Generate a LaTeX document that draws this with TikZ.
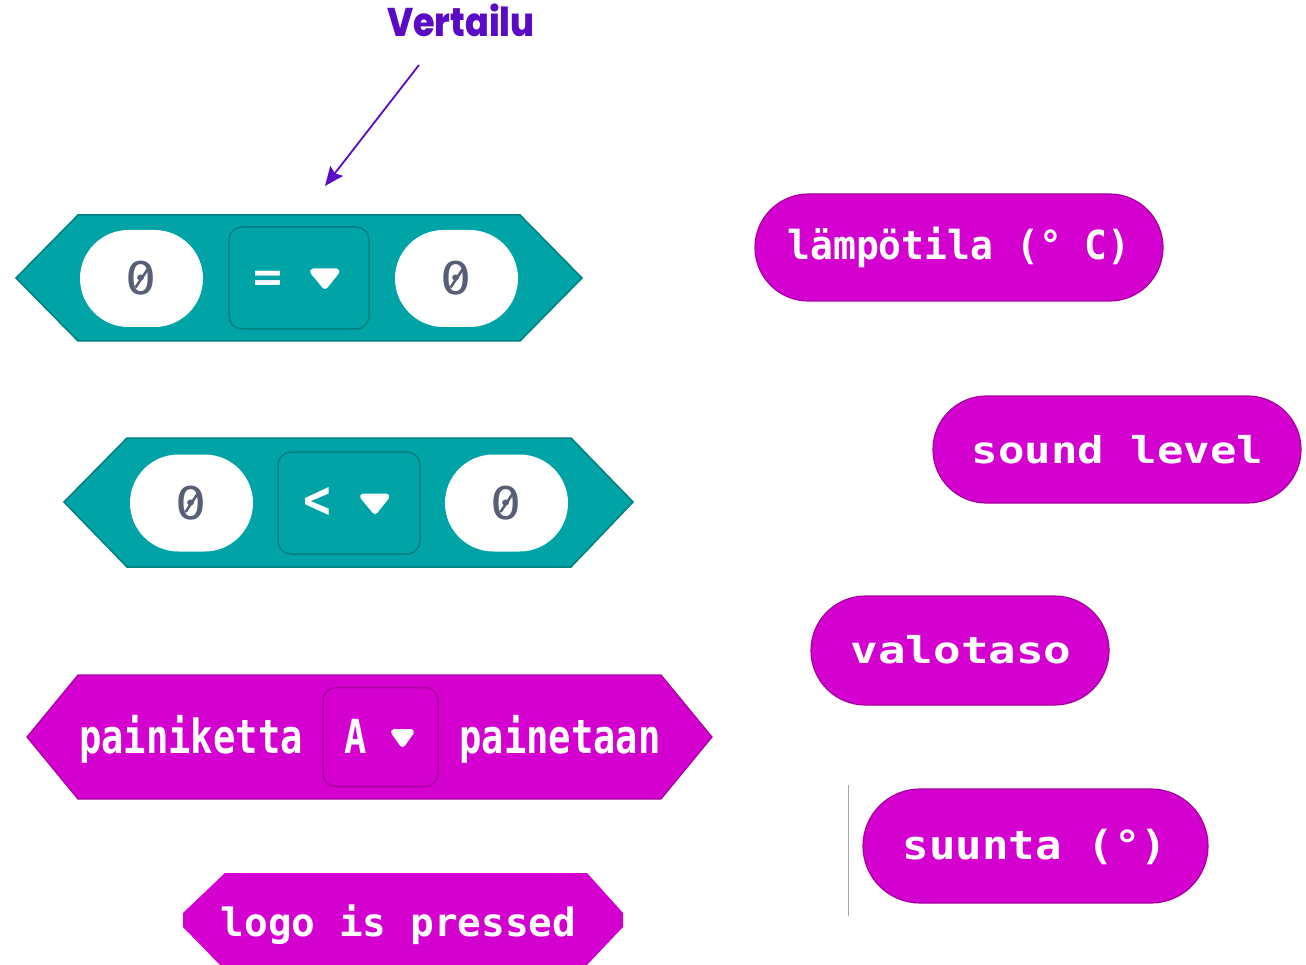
\documentclass[tikz,border=0pt]{standalone}
\usepackage{graphicx}
\usepackage{fontspec}
\setmainfont{DejaVu Sans Mono}[BoldFont={DejaVu Sans Mono Bold}]
\newfontfamily\titlefont{Poppins ExtraBold}
\usetikzlibrary{arrows.meta,shapes.misc}
\definecolor{tealfill}{HTML}{00A4A6}
\definecolor{tealedge}{HTML}{00807F}
\definecolor{magfill}{HTML}{D400CF}
\definecolor{magedge}{HTML}{A8009F}
\definecolor{purplett}{HTML}{5A0BC6}
\definecolor{zerocol}{HTML}{575E75}
\newcommand{\fittext}[3]{{\fontsize{#1}{#1}\selectfont\bfseries\scalebox{#2}[1]{#3}}}
\newcommand{\zeroglyph}{{\fontsize{45}{45}\selectfont\scalebox{1.15}[1]{0}}}
\newcommand{\zeroslash}[1]{\draw[zerocol,line width=2.6pt] ([shift={(-6,9)}]#1.center) -- ([shift={(6,-9)}]#1.center);}
\tikzset{
  x=1pt,y=-1pt,
  tealhex/.style={fill=tealfill,draw=tealedge,line width=1.5pt,line join=miter},
  maghex/.style={fill=magfill,draw=magedge,line width=1.2pt,line join=miter},
  pill/.style={rounded rectangle,fill=magfill,draw=magedge,line width=1.2pt,inner sep=0pt,anchor=center},
  zeropill/.style={rounded rectangle,fill=white,inner sep=0pt,minimum width=123pt,minimum height=97pt,text=zerocol},
  tealdrop/.style={fill=tealfill,draw=tealedge,line width=1.5pt,inner sep=0pt,rounded corners=13pt},
  magdrop/.style={fill=magfill,draw=magedge,line width=1.5pt,inner sep=0pt,rounded corners=13pt},
  caret/.style={fill=white,draw=white,line width=6pt,line join=round},
  whitelabel/.style={text=white,inner sep=0pt},
  annot/.style={draw=purplett,line width=1.8pt,-{Stealth[length=19pt,width=16pt,inset=3pt]}},
}
\begin{document}
\begin{tikzpicture}
\useasboundingbox (0,0) rectangle (1306,965);
\fill[white] (0,0) rectangle (1306,965);

% title and arrow
\node[text=purplett,inner sep=0pt] (title) at (461,20.5) {\titlefont\fontsize{40}{40}\selectfont\scalebox{0.875}[1]{Vertailu}};
\coordinate (arrowfrom) at (419,65);
\coordinate (arrowto) at (325,186);
\draw[annot] (arrowfrom) -- (arrowto);

% equals block
\draw[tealhex] (16,278) -- (78,215) -- (520,215) -- (582,278) -- (520,341) -- (78,341) -- cycle;
\node[zeropill] (eqa) at (141.5,278.5) {\zeroglyph};
\node[zeropill] (eqb) at (456.5,278.5) {\zeroglyph};
\zeroslash{eqa}
\zeroslash{eqb}
\node[tealdrop,minimum width=140pt,minimum height=102pt] (eqdrop) at (299,278) {};
\node[whitelabel] (eqsym) at (268,281) {\fittext{42}{1.15}{=}};
\draw[caret] (313,271.5) -- (336.5,271.5) -- (325,286) -- cycle;

% less-than block
\draw[tealhex] (64,502) -- (127,438) -- (571,438) -- (633,502) -- (571,567) -- (127,567) -- cycle;
\node[zeropill] (lta) at (191.5,503) {\zeroglyph};
\node[zeropill] (ltb) at (506.5,503) {\zeroglyph};
\zeroslash{lta}
\zeroslash{ltb}
\node[tealdrop,minimum width=142pt,minimum height=102pt] (ltdrop) at (349,503) {};
\node[whitelabel] (ltsym) at (317,503) {\fittext{54}{0.85}{<}};
\draw[caret] (363,496.5) -- (386.5,496.5) -- (375,511) -- cycle;

% button block
\draw[maghex] (27,737) -- (78,675) -- (661,675) -- (712,737) -- (661,799) -- (78,799) -- cycle;
\node[whitelabel,anchor=base] (btna) at (191,753) {\fittext{47}{0.79}{painiketta}};
\node[magdrop,minimum width=115pt,minimum height=99pt] (btndrop) at (380.5,737) {};
\node[whitelabel,anchor=base] (btnkey) at (355.5,753) {\fittext{47}{0.79}{A}};
\draw[caret] (394,732) -- (411,732) -- (402.5,744) -- cycle;
\node[whitelabel,anchor=base] (btnb) at (560,753) {\fittext{47}{0.79}{painetaan}};

% logo block
\fill[magfill] (183,913) -- (225,873) -- (587,873) -- (623,913) -- (623,927) -- (587,965) -- (220,965) -- (183,927) -- cycle;
\node[whitelabel,anchor=base] (logo) at (398.5,936) {\fittext{39}{1.01}{logo is pressed}};

% reporters
\node[pill,minimum width=408pt,minimum height=107pt] (temp) at (959,247.5) {};
\node[whitelabel,anchor=base] (templabel) at (959,260) {\fittext{40}{0.95}{lämpötila (° C)}};
\node[pill,minimum width=368pt,minimum height=107pt] (sound) at (1117,449.5) {};
\node[whitelabel,anchor=base] (soundlabel) at (1117.5,463) {\fittext{37}{1.19}{sound level}};
\node[pill,minimum width=298pt,minimum height=109pt] (light) at (960,650.5) {};
\node[whitelabel,anchor=base] (lightlabel) at (961,663) {\fittext{37}{1.24}{valotaso}};
\node[pill,minimum width=345pt,minimum height=114pt] (compass) at (1035.5,846) {};
\node[whitelabel,anchor=base] (compasslabel) at (1035,859) {\fittext{40}{1.1}{suunta (°)}};

% thin rule beside the last reporter
\coordinate (rulea) at (848.7,785);
\coordinate (ruleb) at (848.7,916);
\draw[draw=black!35,line width=0.8pt] (rulea) -- (ruleb);
\end{tikzpicture}
\end{document}
